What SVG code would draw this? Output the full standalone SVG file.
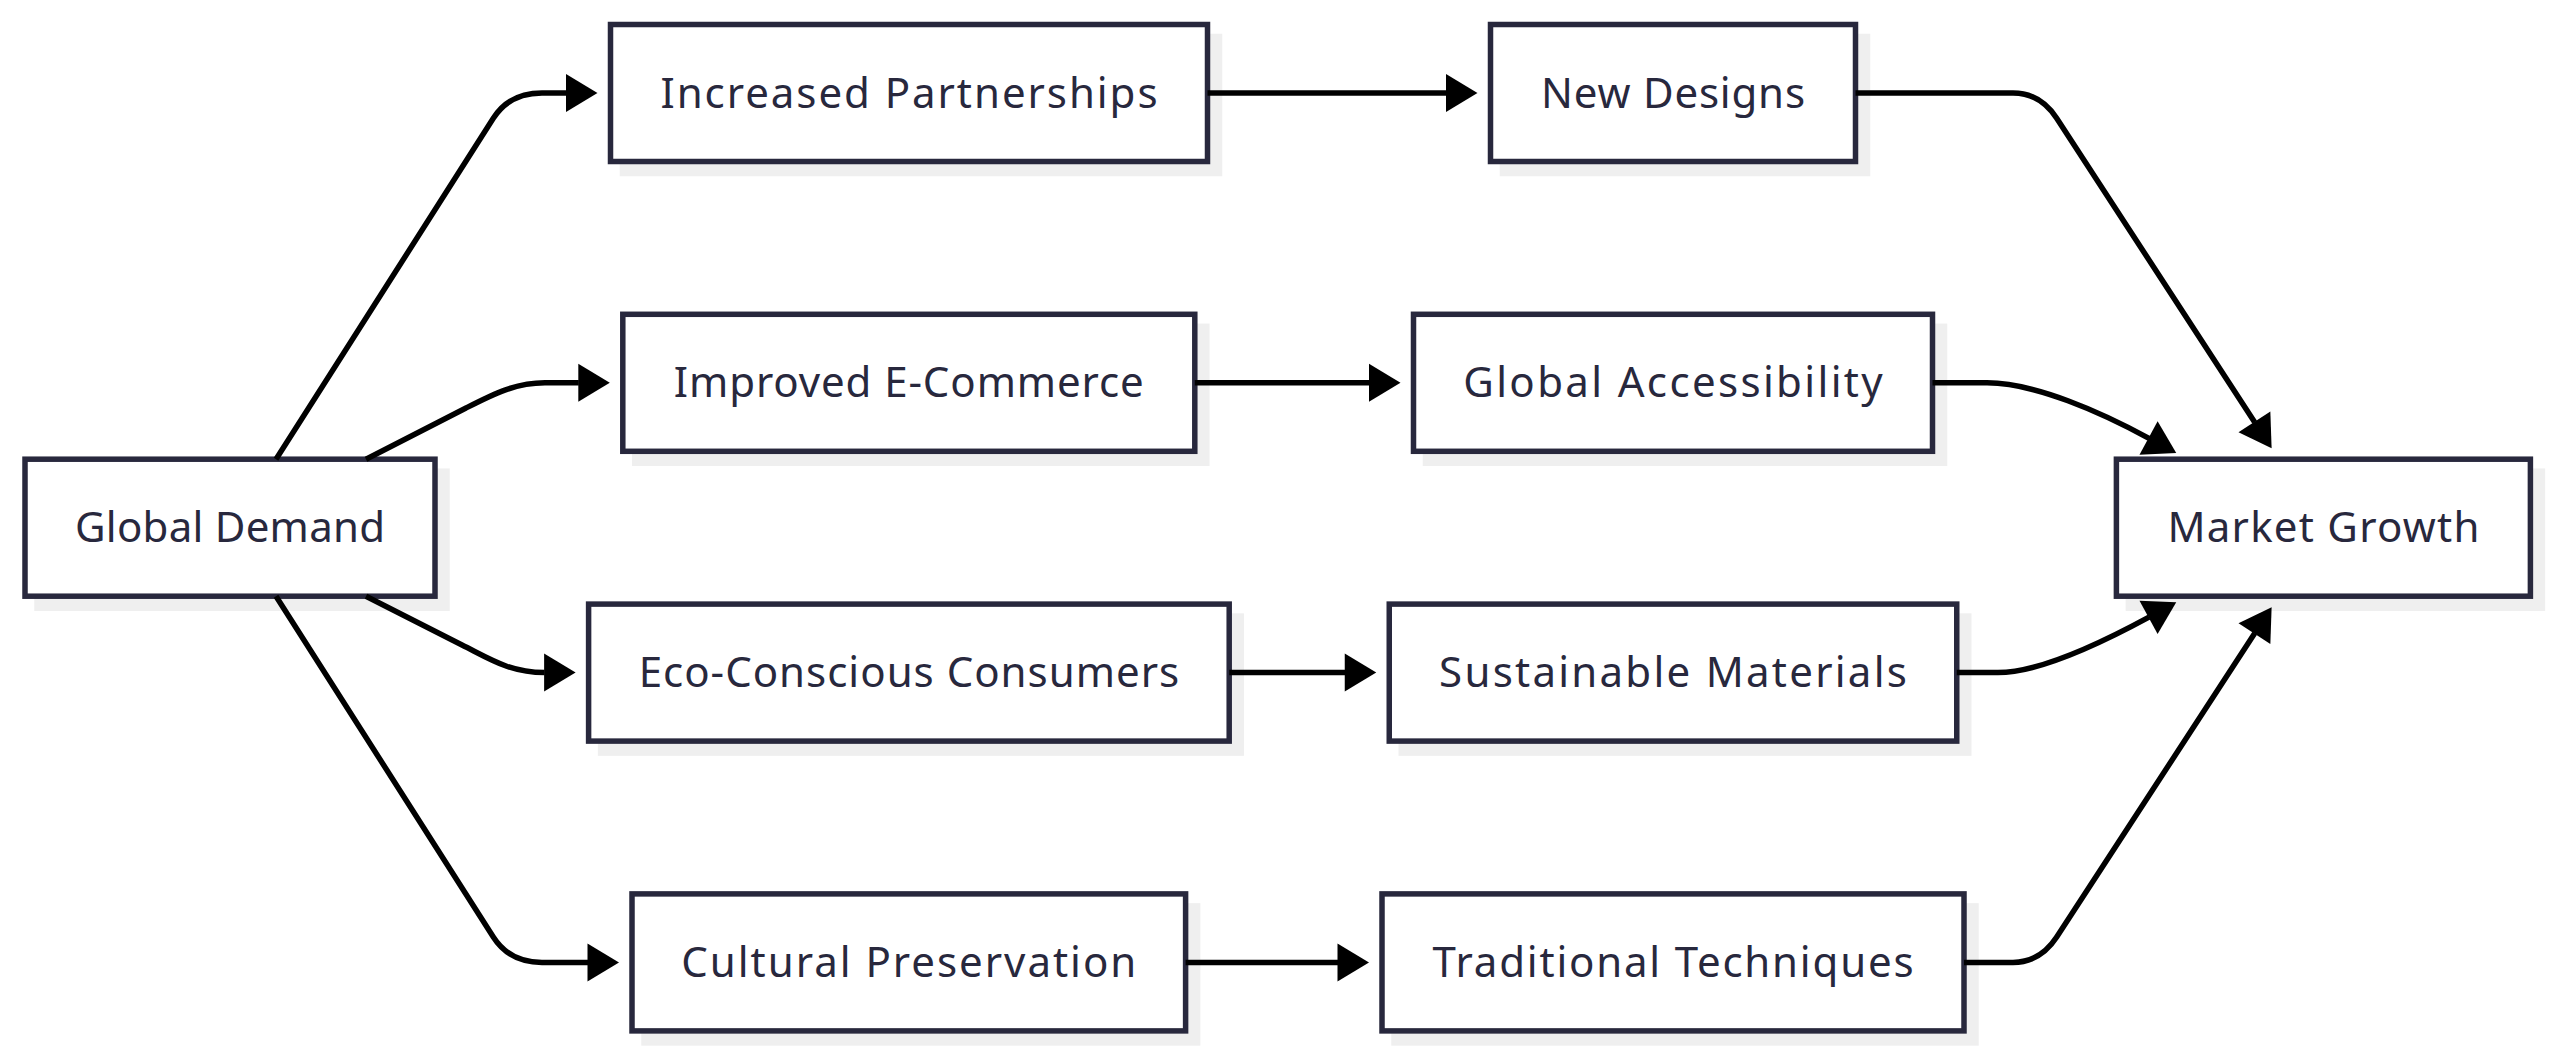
<svg xmlns="http://www.w3.org/2000/svg" width="2560" height="1058" viewBox="0 0 2560 1058">
<defs>
<style>
.shadow{fill:#efefef;stroke:none}
.box{fill:#ffffff;stroke:#28283d;stroke-width:5.5}
.lbl{font-family:"Noto Sans","Liberation Sans",sans-serif;font-size:42px;fill:#28283d;text-anchor:middle}
.edge{fill:none;stroke:#000;stroke-width:5.5;stroke-linejoin:round;marker-end:url(#ah)}
</style>
<marker id="ah" markerUnits="userSpaceOnUse" markerWidth="32" markerHeight="38" refX="0.5" refY="19" orient="auto" overflow="visible">
<path d="M0,0 L31.5,19 L0,38 z" fill="#000"/>
</marker>
</defs>
<rect width="2560" height="1058" fill="#ffffff"/>

<g id="node-global-demand">
<rect class="shadow" x="34.25" y="468.45" width="415.5" height="142.5"/>
<rect class="box" x="25" y="459.2" width="410" height="137"/>
<text class="lbl" x="230" y="542.3" textLength="310">Global Demand</text>
</g>

<g id="node-increased-partnerships">
<rect class="shadow" x="619.75" y="33.75" width="602.5" height="142.5"/>
<rect class="box" x="610.5" y="24.5" width="597" height="137"/>
<text class="lbl" x="909" y="107.6" textLength="497">Increased Partnerships</text>
</g>

<g id="node-new-designs">
<rect class="shadow" x="1499.75" y="33.75" width="370.5" height="142.5"/>
<rect class="box" x="1490.5" y="24.5" width="365" height="137"/>
<text class="lbl" x="1673" y="107.6" textLength="264">New Designs</text>
</g>

<g id="node-improved-ecommerce">
<rect class="shadow" x="632.05" y="323.55" width="577.5" height="142.5"/>
<rect class="box" x="622.8" y="314.3" width="572" height="137"/>
<text class="lbl" x="908.8" y="397.4" textLength="470">Improved E-Commerce</text>
</g>

<g id="node-global-accessibility">
<rect class="shadow" x="1422.75" y="323.55" width="524.5" height="142.5"/>
<rect class="box" x="1413.5" y="314.3" width="519" height="137"/>
<text class="lbl" x="1673" y="397.4" textLength="419.5">Global Accessibility</text>
</g>

<g id="node-eco-conscious-consumers">
<rect class="shadow" x="597.85" y="613.35" width="646.1" height="142.5"/>
<rect class="box" x="588.6" y="604.1" width="640.6" height="137"/>
<text class="lbl" x="908.9" y="687.2" textLength="540.5">Eco-Conscious Consumers</text>
</g>

<g id="node-sustainable-materials">
<rect class="shadow" x="1398.5" y="613.35" width="573" height="142.5"/>
<rect class="box" x="1389.25" y="604.1" width="567.5" height="137"/>
<text class="lbl" x="1673" y="687.2" textLength="467.8">Sustainable Materials</text>
</g>

<g id="node-cultural-preservation">
<rect class="shadow" x="641.25" y="903.15" width="559.1" height="142.5"/>
<rect class="box" x="632" y="893.9" width="553.6" height="137"/>
<text class="lbl" x="908.8" y="977" textLength="455">Cultural Preservation</text>
</g>

<g id="node-traditional-techniques">
<rect class="shadow" x="1391.25" y="903.15" width="587.5" height="142.5"/>
<rect class="box" x="1382" y="893.9" width="582" height="137"/>
<text class="lbl" x="1673" y="977" textLength="481">Traditional Techniques</text>
</g>

<g id="node-market-growth">
<rect class="shadow" x="2125.65" y="468.45" width="419.5" height="142.5"/>
<rect class="box" x="2116.4" y="459.2" width="414" height="137"/>
<text class="lbl" x="2323.4" y="542.3" textLength="312">Market Growth</text>
</g>

<g id="connectors">
<path class="edge" d="M276,459.2 L493.3,118.3 Q509.4,93 542,93 L566.5,93"/>
<path class="edge" d="M366,459.2 L466,408 C492.7,394.4 515,382.8 545,382.8 L578.8,382.8"/>
<path class="edge" d="M366,596.2 L462,645 C490,659 510,672.6 544.6,672.6"/>
<path class="edge" d="M276,596.2 L493.3,937.1 Q509.4,962.4 542,962.4 L588,962.4"/>
<path class="edge" d="M1207.5,93 L1446.5,93"/>
<path class="edge" d="M1194.8,382.8 L1369.5,382.8"/>
<path class="edge" d="M1229.2,672.6 L1345.25,672.6"/>
<path class="edge" d="M1185.6,962.4 L1338,962.4"/>
<path class="edge" d="M1855.5,93 L2013,93 Q2040.2,93 2056.7,118.3 L2254.7,422.2"/>
<path class="edge" d="M1932.5,382.8 L1987,382.8 C2035,382.8 2100.7,412.1 2149,438.3"/>
<path class="edge" d="M1956.75,672.6 L1998,672.6 C2040,672.6 2100.7,643.3 2149,617.1"/>
<path class="edge" d="M1964,962.4 L2013,962.4 Q2040.2,962.4 2056.7,937.1 L2254.7,633.2"/>
</g>
</svg>
